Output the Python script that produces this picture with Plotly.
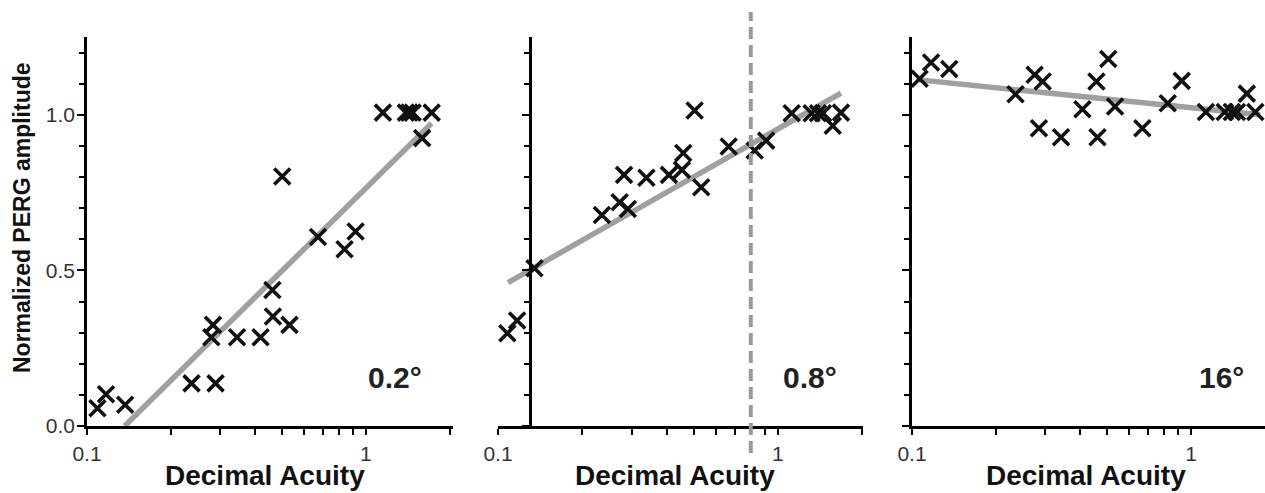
import plotly.graph_objects as go
import numpy as np

# ---------------- data ----------------
p1_x = [0.109, 0.117, 0.137, 0.237, 0.289, 0.279, 0.283, 0.345, 0.419, 0.464, 0.462,
        0.532, 0.501, 0.673, 0.838, 0.918, 1.15, 1.39, 1.43, 1.47, 1.72, 1.59]
p1_y = [0.057, 0.102, 0.068, 0.137, 0.137, 0.285, 0.325, 0.285, 0.285, 0.352, 0.437,
        0.325, 0.802, 0.607, 0.568, 0.625, 1.007, 1.007, 1.007, 1.007, 1.007, 0.925]
fit1_x = [0.1365, 1.72]
fit1_y = [0.0, 0.973]

p2_x = [0.108, 0.117, 0.135, 0.235, 0.272, 0.291, 0.282, 0.339, 0.408, 0.454, 0.459,
        0.504, 0.532, 0.667, 0.826, 0.908, 1.12, 1.32, 1.39, 1.45, 1.68, 1.57]
p2_y = [0.298, 0.339, 0.507, 0.678, 0.719, 0.697, 0.807, 0.798, 0.807, 0.823, 0.877,
        1.014, 0.767, 0.898, 0.885, 0.917, 1.005, 1.005, 1.005, 1.005, 1.007, 0.965]
fit2_x = [0.1086, 1.68]
fit2_y = [0.461, 1.07]

p3_x = [0.1065, 0.117, 0.136, 0.235, 0.275, 0.294, 0.285, 0.342, 0.408, 0.458, 0.462,
        0.505, 0.534, 0.669, 0.825, 0.926, 1.13, 1.32, 1.40, 1.46, 1.70, 1.585]
p3_y = [1.116, 1.168, 1.147, 1.066, 1.129, 1.107, 0.957, 0.928, 1.018, 1.107, 0.928,
        1.179, 1.027, 0.957, 1.037, 1.109, 1.009, 1.009, 1.009, 1.009, 1.009, 1.068]
fit3_x = [0.104, 1.77]
fit3_y = [1.113, 1.0]

panel_labels = ["0.2°", "0.8°", "16°"]
cutoff_acuity = 0.8
panel2_yaxis_at = 0.13

y_major = [0.0, 0.5, 1.0]
y_major_text = ["0.0", "0.5", "1.0"]
y_minor = [0.1, 0.2, 0.3, 0.4, 0.6, 0.7, 0.8, 0.9, 1.1, 1.2]
x_major = [0.1, 1]
x_major_text = ["0.1", "1"]
x_minor = [0.2, 0.3, 0.4, 0.5, 0.6, 0.7, 0.8, 0.9, 2]

# ---------------- layout geometry ----------------
W, H = 1265, 493
FONT = "Arial, Liberation Sans, sans-serif"
y_dom = [(H - 426) / H, (H - 37) / H]
x_doms = [[87 / W, 453 / W], [498 / W, 863 / W], [912 / W, 1.0]]
x_ranges = [[-1, 0.312], [-1, 0.304], [-1, 0.265]]

fig = go.Figure()

datasets = [(p1_x, p1_y, fit1_x, fit1_y), (p2_x, p2_y, fit2_x, fit2_y), (p3_x, p3_y, fit3_x, fit3_y)]
for i, (px, py, fx, fy) in enumerate(datasets):
    sfx = "" if i == 0 else str(i + 1)
    fig.add_trace(go.Scatter(x=fx, y=fy, mode="lines", xaxis="x" + sfx, yaxis="y" + sfx,
                             line=dict(color="#a0a0a0", width=5.5), cliponaxis=False,
                             showlegend=False, hoverinfo="skip"))
    fig.add_trace(go.Scatter(x=px, y=py, mode="markers", xaxis="x" + sfx, yaxis="y" + sfx,
                             marker=dict(symbol="x-thin", size=16, color="#111",
                                         line=dict(color="#111", width=3.6)),
                             cliponaxis=False, showlegend=False))

axis_common = dict(showgrid=False, zeroline=False, showline=True, linecolor="black",
                   linewidth=2.5, ticks="outside", tickcolor="black", tickwidth=2,
                   automargin=False,
                   tickfont=dict(family=FONT, size=21, color="#333"))

layout = dict(width=W, height=H, margin=dict(l=0, r=0, t=0, b=0, autoexpand=False),
              plot_bgcolor="white", paper_bgcolor="white", showlegend=False)

for i in range(3):
    sfx = "" if i == 0 else str(i + 1)
    xa = dict(axis_common, type="log", domain=x_doms[i], range=x_ranges[i],
              anchor="y" + sfx, tickmode="array", tickvals=x_major, ticktext=x_major_text,
              ticklen=6, ticklabelstandoff=1,
              minor=dict(tickmode="array", tickvals=x_minor, ticks="outside", ticklen=6,
                         tickwidth=2, tickcolor="black"))
    ya = dict(axis_common, domain=y_dom, range=[0, 1.25], tickmode="array",
              tickvals=y_major, ticktext=y_major_text, ticklen=7, ticklabelstandoff=-2,
              showticklabels=(i == 0),
              minor=dict(tickmode="array", tickvals=y_minor, ticks="outside", ticklen=5,
                         tickwidth=2, tickcolor="black"))
    if i == 1:
        lo, hi = x_ranges[1]
        frac = (np.log10(panel2_yaxis_at) - lo) / (hi - lo)
        pos = x_doms[1][0] + frac * (x_doms[1][1] - x_doms[1][0])
        ya.update(anchor="free", position=pos)
    else:
        ya.update(anchor="x" + sfx)
    layout["xaxis" + sfx] = xa
    layout["yaxis" + sfx] = ya

fig.update_layout(**layout)

# dashed cutoff line in panel 2
fig.add_shape(type="line", xref="x2", yref="paper", x0=cutoff_acuity, x1=cutoff_acuity,
              y0=(H - 453) / H, y1=(H - 12) / H,
              line=dict(color="#9a9a9a", width=4, dash="12px,6px"))

# x titles
title_cx = [264.5, 674.5, 1086]
for cx in title_cx:
    fig.add_annotation(text="<b>Decimal Acuity</b>", xref="paper", yref="paper",
                       x=cx / W, y=0, xanchor="center", yanchor="bottom",
                       showarrow=False, font=dict(family=FONT, size=28, color="#111"))

# y title
fig.add_annotation(text="<b>Normalized PERG amplitude</b>", xref="paper", yref="paper",
                   x=22 / W, y=(H - 218) / H, xanchor="center", yanchor="middle",
                   textangle=-90, showarrow=False,
                   font=dict(family=FONT, size=23, color="#111"))

# panel labels
label_cx = [395, 810, 1221]
for cx, lab in zip(label_cx, panel_labels):
    fig.add_annotation(text="<b>" + lab + "</b>", xref="paper", yref="paper",
                       x=cx / W, y=(H - 377) / H, xanchor="center", yanchor="middle",
                       showarrow=False, font=dict(family=FONT, size=30, color="#222"))

fig.write_html("out.html", config={"displayModeBar": False},
               post_script="document.body.style.margin='0';document.body.style.overflow='hidden';")
